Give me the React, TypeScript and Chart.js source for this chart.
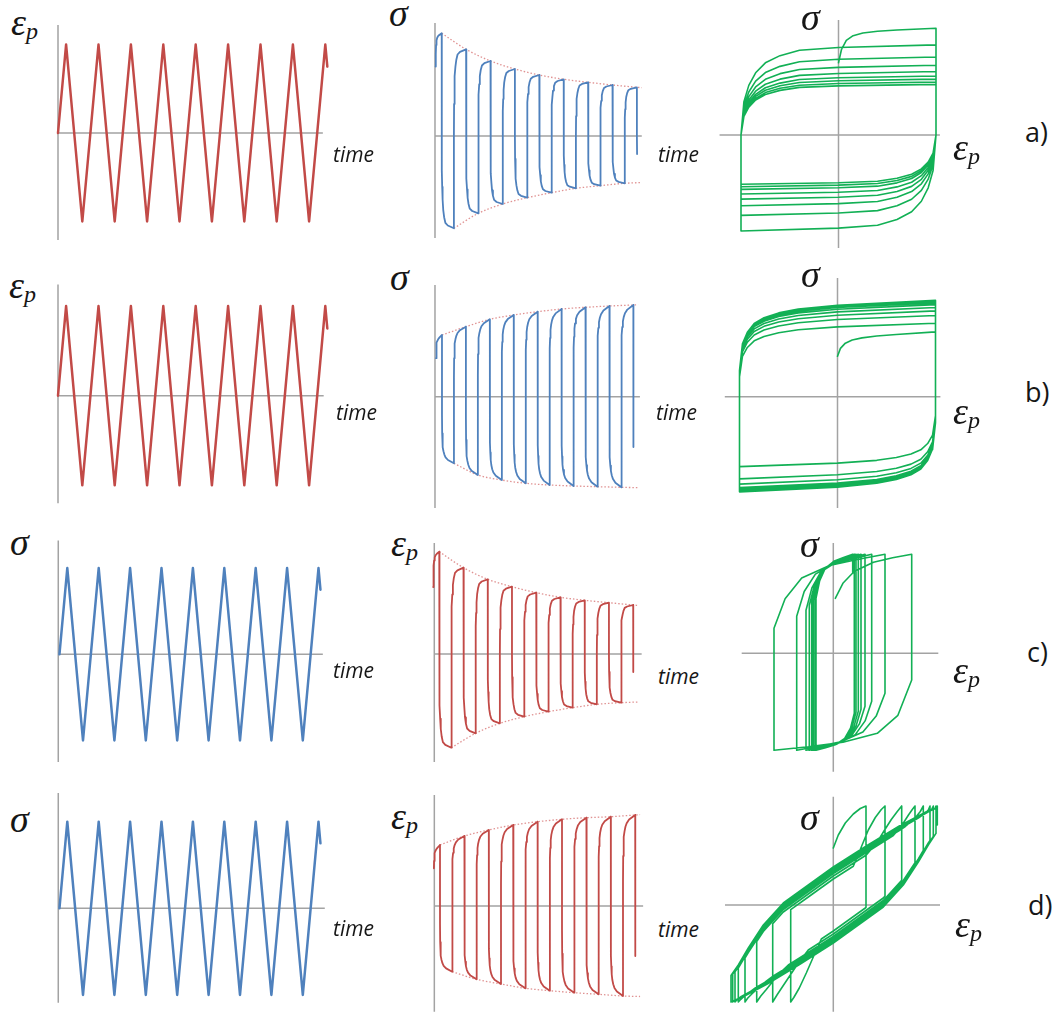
import React, { useEffect, useRef } from "react";
import { Chart, registerables } from "chart.js";

Chart.register(...registerables);

// ---------------- DATA ----------------

// Column 1: control signal (triangle wave), time units, normalised amplitude
const TRI_T = [0, 1, 3, 5, 7, 9, 11, 13, 15, 17, 19, 21, 23, 25, 27, 29, 31, 33, 33.25];
const TRI_V = [0, 1, -1, 1, -1, 1, -1, 1, -1, 1, -1, 1, -1, 1, -1, 1, -1, 1, 0.75];

// Column 2: response sampled in blocks; each block starts at a reversal time
const BLOCK_START = [0, 1, 3, 5, 7, 9, 11, 13, 15, 17, 19, 21, 23, 25, 27, 29, 31, 33];
const BLOCK_OFFSET = [0, 0.03, 0.08, 0.15, 0.25, 0.4, 0.6, 1, 2];
// triangle (control) values at the same sample offsets
const STRAIN_START = [0, 0.03, 0.08, 0.15, 0.25, 0.4, 0.6, 1];
const STRAIN_DOWN = [1, 0.97, 0.92, 0.85, 0.75, 0.6, 0.4, 0, -1];

// a) stress response to strain cycling (softening)
const SIG_A = [
  [69.5, 82, 91, 95.5, 98, 99.8, 101, 102.7],
  [0, -34.2, -50.8, -63.7, -73.8, -81.2, -86.8, -89.5, -92.3],
  [0, 32.1, 47.7, 59.8, 69.4, 76.3, 81.5, 84.1, 86.7],
  [0, -28.6, -42.5, -53.3, -61.8, -68, -72.7, -75, -77.3],
  [0, 27.8, 41.3, 51.8, 60, 66, 70.5, 72.8, 75],
  [0, -25.2, -37.4, -46.9, -54.4, -59.8, -63.9, -66, -68],
  [0, 24.8, 36.9, 46.2, 53.6, 59, 63, 65, 67],
  [0, -22.8, -33.9, -42.6, -49.4, -54.3, -58, -59.8, -61.7],
  [0, 22.6, 33.6, 42.1, 48.8, 53.7, 57.3, 59.2, 61],
  [0, -21, -31.2, -39.1, -45.4, -49.9, -53.3, -55, -56.7],
  [0, 21, 31.2, 39.1, 45.4, 49.9, 53.3, 55, 56.7],
  [0, -19.4, -28.8, -36.1, -41.8, -46, -49.2, -50.7, -52.3],
  [0, 19.9, 29.5, 37.1, 43, 47.3, 50.5, 52.1, 53.7],
  [0, -18.4, -27.3, -34.3, -39.8, -43.7, -46.7, -48.2, -49.7],
  [0, 18.9, 28.1, 35.2, 40.8, 44.9, 47.9, 49.5, 51],
  [0, -17.5, -26, -32.6, -37.8, -41.6, -44.5, -45.9, -47.3],
  [0, 18, 26.8, 33.6, 39, 42.9, 45.8, 47.2, 48.7],
  [0, -18],
];
// b) stress response to strain cycling (hardening)
const SIG_B = [
  [38.5, 46, 51, 54, 56, 57.8, 59.3, 61.7],
  [-18, -36.6, -44.6, -50.6, -54.6, -57.9, -60.6, -63.3, -66.6],
  [18.9, 38.5, 46.9, 53.2, 57.4, 60.9, 63.7, 66.5, 70],
  [-21.1, -43.1, -52.5, -59.5, -64.2, -68.1, -71.3, -74.4, -78.3],
  [20.9, 42.6, 51.9, 58.8, 63.5, 67.3, 70.4, 73.5, 77.4],
  [-22.5, -45.8, -55.8, -63.3, -68.3, -72.5, -75.8, -79.1, -83.3],
  [22.1, 44.9, 54.7, 62.1, 67, 71.1, 74.3, 77.6, 81.7],
  [-23.4, -47.6, -58, -65.8, -71, -75.3, -78.8, -82.3, -86.6],
  [23, 46.8, 57, 64.6, 69.7, 74, 77.4, 80.8, 85],
  [-23.8, -48.6, -59.2, -67.1, -72.4, -76.8, -80.4, -83.9, -88.3],
  [23.7, 48.2, 58.8, 66.7, 71.9, 76.3, 79.8, 83.3, 87.7],
  [-24.1, -49.1, -59.8, -67.9, -73.2, -77.7, -81.3, -84.8, -89.3],
  [24.1, 49.2, 59.9, 67.9, 73.3, 77.8, 81.4, 84.9, 89.4],
  [-24.3, -49.5, -60.3, -68.4, -73.8, -78.3, -81.9, -85.5, -90],
  [24.5, 49.9, 60.8, 68.9, 74.4, 78.9, 82.5, 86.2, 90.7],
  [-24.5, -49.8, -60.7, -68.9, -74.3, -78.8, -82.4, -86.1, -90.6],
  [24.8, 50.4, 61.4, 69.7, 75.2, 79.8, 83.4, 87.1, 91.7],
  [-24.8, -50.4],
];
// c) plastic strain response to stress cycling
const EPS_C = [
  [67, 79.5, 88.5, 93.5, 96.5, 98.8, 100.3, 102.3],
  [0, -34.7, -51.5, -64.7, -75, -82.5, -88.1, -90.9, -93.7],
  [0, 31.9, 47.5, 59.5, 69, 75.9, 81.1, 83.7, 86.3],
  [0, -29.3, -43.6, -54.7, -63.4, -69.8, -74.5, -76.9, -79.3],
  [0, 27.6, 41.1, 51.5, 59.8, 65.7, 70.2, 72.5, 74.7],
  [0, -25.6, -38.1, -47.8, -55.4, -61, -65.1, -67.2, -69.3],
  [0, 24.9, 37, 46.4, 53.8, 59.2, 63.3, 65.3, 67.3],
  [0, -23.2, -34.5, -43.3, -50.2, -55.2, -58.9, -60.8, -62.7],
  [0, 22.7, 33.7, 42.3, 49, 53.9, 57.6, 59.5, 61.3],
  [0, -21.3, -31.7, -39.8, -46.2, -50.8, -54.2, -56, -57.7],
  [0, 21, 31.2, 39.1, 45.4, 49.9, 53.3, 55, 56.7],
  [0, -19.9, -29.5, -37.1, -43, -47.3, -50.5, -52.1, -53.7],
  [0, 19.9, 29.5, 37.1, 43, 47.3, 50.5, 52.1, 53.7],
  [0, -18.6, -27.7, -34.7, -40.2, -44.3, -47.3, -48.8, -50.3],
  [0, 19, 28.2, 35.4, 41, 45.1, 48.2, 49.8, 51.3],
  [0, -18, -26.8, -33.6, -39, -42.9, -45.8, -47.2, -48.7],
  [0, 18.1, 27, 33.8, 39.2, 43.1, 46.1, 47.5, 49],
  [0, -18],
];
// d) plastic strain response to stress cycling
const EPS_D = [
  [37.7, 45, 50, 53, 55, 56.8, 58.4, 61],
  [-17.7, -36.1, -44, -49.9, -53.9, -57.2, -59.8, -62.4, -65.7],
  [18.9, 38.5, 46.9, 53.2, 57.4, 60.9, 63.7, 66.5, 70],
  [-19.8, -40.3, -49.1, -55.7, -60.1, -63.8, -66.7, -69.6, -73.3],
  [20.5, 41.8, 50.9, 57.8, 62.3, 66.1, 69.2, 72.2, 76],
  [-21.1, -42.9, -52.3, -59.3, -64, -67.9, -71, -74.1, -78],
  [21.9, 44.6, 54.3, 61.6, 66.4, 70.5, 73.7, 77, 81],
  [-22.2, -45.3, -55.1, -62.5, -67.5, -71.6, -74.9, -78.2, -82.3],
  [22.8, 46.4, 56.5, 64.1, 69.1, 73.3, 76.7, 80.1, 84.3],
  [-22.9, -46.6, -56.7, -64.4, -69.5, -73.7, -77.1, -80.5, -84.7],
  [23.4, 47.7, 58.1, 65.9, 71.1, 75.4, 78.9, 82.4, 86.7],
  [-23.4, -47.7, -58.1, -65.9, -71.1, -75.4, -78.9, -82.4, -86.7],
  [23.8, 48.6, 59.2, 67.1, 72.4, 76.8, 80.4, 83.9, 88.3],
  [-23.8, -48.6, -59.2, -67.1, -72.4, -76.8, -80.4, -83.9, -88.3],
  [24.1, 49.1, 59.8, 67.9, 73.2, 77.7, 81.3, 84.8, 89.3],
  [-24.3, -49.5, -60.3, -68.4, -73.8, -78.3, -81.9, -85.5, -90],
  [24.6, 50, 61, 69.2, 74.6, 79.2, 82.8, 86.5, 91],
  [-24.6, -50],
];

// dotted envelopes of column 2
const ENV_UP_T = [1, 5, 9, 13, 17, 21, 25, 29, 33, 33.8];
const ENV_LO_T = [3, 7, 11, 15, 19, 23, 27, 31, 33.8];
const ENV_A_UP = [102.7, 86.7, 75, 67, 61, 56.7, 53.7, 51, 48.7, 48.3];
const ENV_A_LO = [-92.3, -77.3, -68, -61.7, -56.7, -52.3, -49.7, -47.3, -46.5];
const ENV_B_UP = [61.7, 70, 77.4, 81.7, 85, 87.7, 89.4, 90.7, 91.7, 91.9];
const ENV_B_LO = [-66.6, -78.3, -83.3, -86.6, -88.3, -89.3, -90, -90.6, -91];
const ENV_C_UP = [102.3, 86.3, 74.7, 67.3, 61.3, 56.7, 53.7, 51.3, 49, 48.6];
const ENV_C_LO = [-93.7, -79.3, -69.3, -62.7, -57.7, -53.7, -50.3, -48.7, -48];
const ENV_D_UP = [61, 70, 76, 81, 84.3, 86.7, 88.3, 89.3, 91, 91.3];
const ENV_D_LO = [-65.7, -73.3, -78, -82.3, -84.7, -86.7, -88.3, -90, -90.5];

// Column 3, rows c) and d): hysteresis loops [plastic strain, stress], branch by branch
const LOOP_C = [
  [[2, 55], [9.6, 70], [21.1, 82], [40.2, 91], [59.3, 95.5], [78.4, 99]],
  [[78.4, -26.7], [64.6, -62], [44, -80], [9.6, -89], [-24.9, -93.5], [-59.3, -97]],
  [[-59.3, 25], [-48.2, 54.6], [-31.6, 75.3], [-3.8, 87.9], [23.9, 93.8], [51.7, 99]],
  [[51.7, -40], [42.9, -62.8], [29.6, -78.8], [7.6, -88.5], [-14.5, -93], [-36.6, -97]],
  [[-36.6, 37], [-29.1, 61.8], [-17.9, 79.2], [0.9, 89.7], [19.7, 94.7], [38.4, 99]],
  [[38.4, -48], [31.8, -67.6], [22, -81.3], [5.6, -89.7], [-10.9, -93.6], [-27.3, -97]],
  [[-27.3, 43], [-21.4, 65.4], [-12.6, 81.1], [2.2, 90.6], [17, 95.1], [31.7, 99]],
  [[31.7, -53], [26.1, -70.6], [17.8, -82.9], [3.9, -90.4], [-10.1, -93.9], [-24, -97]],
  [[-24, 48], [-18.8, 68.4], [-11.1, 82.7], [1.9, 91.4], [14.8, 95.4], [27.7, 99]],
  [[27.7, -56], [22.8, -72.4], [15.4, -83.9], [3.1, -90.9], [-9.3, -94.1], [-21.6, -97]],
  [[-21.6, 51], [-16.9, 70.2], [-9.9, 83.6], [1.7, 91.8], [13.4, 95.6], [25, 99]],
  [[25, -58], [20.5, -73.6], [13.8, -84.5], [2.5, -91.2], [-8.8, -94.3], [-20, -97]],
  [[-20, 53], [-15.7, 71.4], [-9.3, 84.3], [1.4, 92.1], [12, 95.8], [22.7, 99]],
  [[22.7, -59], [18.6, -74.2], [12.5, -84.8], [2.2, -91.3], [-8.1, -94.3], [-18.3, -97]],
  [[-18.3, 54], [-14.4, 72], [-8.5, 84.6], [1.4, 92.3], [11.2, 95.9], [21, 99]],
  [[21, -60], [17.2, -74.8], [11.4, -85.2], [1.9, -91.5], [-7.7, -94.4], [-17.3, -97]],
  [[-17.3, 55], [-13.6, 72.6], [-8.1, 84.9], [1.1, 92.4], [10.2, 95.9], [19.4, 99]],
  [[19.4, 80]],
];
const LOOP_D = [
  [[0, 57], [5, 70], [12, 82], [20, 91], [27, 96.5], [32.7, 99]],
  [[32.7, -2.5], [25, -8], [0, -26], [-12, -34], [-20, -52], [-27, -68], [-34, -83], [-39.5, -92.5], [-42.6, -97]],
  [[-42.6, -4.7], [-25, 8], [0, 26], [20, 38.7], [28, 58], [35, 75], [42, 87.5], [48, 95.5], [51.7, 99]],
  [[51.7, 8.9], [50, 7], [25, -11], [0, -29], [-25, -45], [-35, -58], [-43, -70], [-50, -80.5], [-56, -89.5], [-60.6, -97]],
  [[-60.6, -18.7], [-50, -7], [-25, 11], [0, 29], [33, 50], [44, 63], [51, 74.5], [58, 85.5], [64, 93.5], [68.4, 99]],
  [[68.4, 24.7], [50, 4.5], [25, -13.5], [0, -31.5], [-33, -52.5], [-45, -60], [-54, -68.5], [-61, -77], [-67, -84.5], [-72.5, -91], [-76.6, -97]],
  [[-76.6, -36.6], [-70, -26.5], [-50, -4.5], [-25, 13.5], [0, 31.5], [33, 52.5], [60, 69.5], [66, 76.5], [71, 83.5], [75.5, 90.5], [79, 95.5], [81.7, 99]],
  [[81.7, 42.4], [70, 24.5], [50, 2.5], [25, -15.5], [0, -33.5], [-33, -54.5], [-60, -70.9], [-68, -77], [-75, -83], [-81, -88.5], [-85.5, -93], [-88.3, -97]],
  [[-88.3, -53.1], [-85, -47.5], [-70, -24.5], [-50, -2.5], [-25, 15.5], [0, 33.5], [33, 54.5], [66, 74.5], [72, 78.5], [78, 83.5], [83, 88.5], [87, 93.5], [90, 99]],
  [[90, 54.5], [85, 46], [70, 23], [50, 1], [25, -17], [0, -35], [-33, -56], [-66, -76], [-78, -83], [-84, -87.5], [-89, -91.2], [-92.5, -94.3], [-95, -97]],
  [[-95, -63], [-85, -46], [-70, -23], [-50, -1], [-25, 17], [0, 35], [33, 56], [66, 76], [85, 87], [92, 92], [95, 95], [96.7, 99]],
  [[96.7, 64.6], [95, 62], [85, 45], [70, 22], [50, 0], [25, -18], [0, -36], [-33, -57], [-66, -77], [-85, -87.6], [-92, -91.5], [-96, -94.5], [-98.3, -97]],
  [[-98.3, -66.8], [-95, -62], [-85, -45], [-70, -22], [-50, 0], [-25, 18], [0, 36], [33, 57], [66, 77], [93, 92], [98, 95], [100, 99]],
  [[100, 68.6], [95, 61], [85, 44], [70, 21], [50, -1], [25, -19], [0, -37], [-33, -58], [-66, -78], [-93, -92.6], [-98.5, -95.3], [-100.6, -97]],
  [[-100.6, -69.1], [-95, -61], [-85, -44], [-70, -21], [-50, 1], [-25, 19], [0, 37], [33, 58], [66, 78], [93, 92.6], [101.6, 96.3], [102.7, 99]],
  [[102.7, 71.6], [95, 60], [85, 43], [70, 20], [50, -2], [25, -20], [0, -38], [-33, -59], [-66, -79], [-93, -93.2], [-101.6, -96.6], [-102.3, -97]],
  [[-102.3, -70.5], [-95, -60], [-85, -43], [-70, -20], [-50, 2], [-25, 20], [0, 38], [33, 59], [66, 79], [93, 93.2], [101.6, 96.6], [104, 99]],
  [[104, 80]],
];

// texts
const TXT_TIME = "time";
const TXT_SIGMA = "σ";
const TXT_EPS = "ε";
const TXT_SUB = "p";
const ROW_TAGS = ["a)", "b)", "c)", "d)"];

// ---------------- helpers ----------------
type Pt = { x: number; y: number };

function zip(ts: number[], vs: number[]): Pt[] {
  return vs.map((v, i) => ({ x: ts[i], y: v }));
}
function blocksToTime(blocks: number[][]): Pt[] {
  const pts: Pt[] = [];
  blocks.forEach((b, j) => b.forEach((v, i) => pts.push({ x: BLOCK_START[j] + BLOCK_OFFSET[i], y: v })));
  return pts;
}
function blocksToLoop(blocks: number[][]): Pt[] {
  const pts: Pt[] = [];
  blocks.forEach((b, j) =>
    b.forEach((v, i) => {
      const e = j === 0 ? STRAIN_START[i] : (j % 2 === 1 ? 1 : -1) * STRAIN_DOWN[i];
      pts.push({ x: e, y: v });
    })
  );
  return pts;
}
function branchesToPts(br: number[][][]): Pt[] {
  const pts: Pt[] = [];
  br.forEach((b) => b.forEach(([x, y]) => pts.push({ x, y })));
  return pts;
}

const RED = "#c24a47";
const BLUE = "#4f81bd";
const GREEN = "#12b055";
const ENVC = "rgba(222,140,140,0.95)";
const AXIS = "#a3a3a3";

const line = (data: Pt[], color: string, width: number) => ({
  data,
  showLine: true,
  borderColor: color,
  backgroundColor: color,
  borderWidth: width,
  pointRadius: 0,
  fill: false,
  tension: 0,
  borderJoinStyle: "round",
  borderCapStyle: "round",
  clip: false,
});
const env = (data: Pt[]) => ({
  ...line(data, ENVC, 1.3),
  borderDash: [1.5, 2],
  tension: 0.4,
  cubicInterpolationMode: "monotone",
  borderCapStyle: "butt",
});

const crossAxes = {
  id: "crossAxes",
  beforeDatasetsDraw(chart: any, _args: any, opts: any) {
    const { ctx } = chart;
    const xs = chart.scales.x;
    const ys = chart.scales.y;
    ctx.save();
    ctx.strokeStyle = AXIS;
    ctx.lineWidth = 1.5;
    ctx.beginPath();
    ctx.moveTo(xs.getPixelForValue(opts.h[0]), ys.getPixelForValue(0));
    ctx.lineTo(xs.getPixelForValue(opts.h[1]), ys.getPixelForValue(0));
    ctx.moveTo(xs.getPixelForValue(opts.v[0]), ys.getPixelForValue(opts.v[1]));
    ctx.lineTo(xs.getPixelForValue(opts.v[0]), ys.getPixelForValue(opts.v[2]));
    ctx.stroke();
    ctx.restore();
  },
};

type Spec = {
  box: [number, number, number, number];
  origin: [number, number];
  unit: [number, number];
  h: [number, number];
  v: [number, number, number];
  datasets: any[];
};

function Panel({ spec }: { spec: Spec }) {
  const ref = useRef<HTMLCanvasElement>(null);
  const [L, T, W, H] = spec.box;
  useEffect(() => {
    const [ox, oy] = spec.origin;
    const [ux, uy] = spec.unit;
    const chart = new Chart(ref.current as HTMLCanvasElement, {
      type: "scatter",
      data: { datasets: spec.datasets },
      options: {
        responsive: false,
        animation: false,
        devicePixelRatio: 1,
        events: [],
        layout: { padding: 0 },
        plugins: {
          legend: { display: false },
          tooltip: { enabled: false },
          crossAxes: { h: spec.h, v: spec.v },
        } as any,
        scales: {
          x: { type: "linear", display: false, min: (L - ox) / ux, max: (L + W - ox) / ux },
          y: { type: "linear", display: false, min: (oy - T - H) / uy, max: (oy - T) / uy },
        },
      },
      plugins: [crossAxes as any],
    } as any);
    return () => chart.destroy();
  }, []);
  return (
    <canvas
      ref={ref}
      width={W}
      height={H}
      style={{ position: "absolute", left: L, top: T, width: W, height: H }}
    />
  );
}

const SERIF = '"Liberation Serif", "DejaVu Serif", serif';
const SANS = '"Open Sans", "Liberation Sans", sans-serif';

function Txt(props: { x: number; base: number; size: number; serif?: boolean; italic?: boolean; children: any }) {
  const k = props.serif ? 0.8375 : 0.888;
  return (
    <div
      style={{
        position: "absolute",
        left: props.x,
        top: props.base - k * props.size,
        fontSize: props.size,
        lineHeight: `${props.size}px`,
        fontFamily: props.serif ? SERIF : SANS,
        fontStyle: props.italic ? "italic" : "normal",
        whiteSpace: "nowrap",
        color: "#161616",
      }}
    >
      {props.children}
    </div>
  );
}

function Sigma({ x, base }: { x: number; base: number }) {
  return (
    <Txt x={x} base={base} size={38} serif italic>
      {TXT_SIGMA}
    </Txt>
  );
}
function EpsP({ x, base }: { x: number; base: number }) {
  return (
    <Txt x={x} base={base} size={38} serif italic>
      {TXT_EPS}
      <span style={{ fontSize: 24, position: "relative", top: 4 }}>{TXT_SUB}</span>
    </Txt>
  );
}
function Time({ x, base }: { x: number; base: number }) {
  return (
    <Txt x={x} base={base} size={21} italic>
      {TXT_TIME}
    </Txt>
  );
}

export default function App() {
  const tri = zip(TRI_T, TRI_V);
  const specs: Spec[] = [
    // column 1
    { box: [40, 10, 300, 245], origin: [58, 133], unit: [8.1, 88.5], h: [0, 32.7], v: [0, -1.21, 1.22], datasets: [line(tri, RED, 2.5)] },
    { box: [40, 270, 300, 245], origin: [58, 395.7], unit: [8.1, 89.6], h: [0, 32.8], v: [0, -1.2, 1.24], datasets: [line(tri, RED, 2.5)] },
    { box: [40, 525, 300, 250], origin: [59.45, 654.3], unit: [7.85, 86.2], h: [-0.15, 33.55], v: [-0.15, -1.25, 1.32], datasets: [line(tri, BLUE, 2.5)] },
    { box: [40, 780, 300, 234], origin: [59.45, 908.3], unit: [7.85, 86.6], h: [-0.15, 33.8], v: [-0.15, -1.09, 1.33], datasets: [line(tri, BLUE, 2.5)] },
    // column 2
    {
      box: [425, 10, 230, 245], origin: [435.6, 136], unit: [6.1, 1], h: [-0.1, 33.8], v: [-0.1, -102, 113],
      datasets: [line(blocksToTime(SIG_A), BLUE, 1.8), env(zip(ENV_UP_T, ENV_A_UP)), env(zip(ENV_LO_T, ENV_A_LO))],
    },
    {
      box: [425, 270, 230, 245], origin: [436, 396.7], unit: [5.98, 1], h: [-0.17, 34.1], v: [-0.17, -111.3, 111.7],
      datasets: [line(blocksToTime(SIG_B), BLUE, 1.8), env(zip(ENV_UP_T, ENV_B_UP)), env(zip(ENV_LO_T, ENV_B_LO))],
    },
    {
      box: [425, 525, 230, 250], origin: [433.2, 654], unit: [6.06, 1], h: [0.18, 34.4], v: [0.18, -108, 111],
      datasets: [line(blocksToTime(EPS_C), RED, 1.8), env(zip(ENV_UP_T, ENV_C_UP)), env(zip(ENV_LO_T, ENV_C_LO))],
    },
    {
      box: [425, 780, 230, 234], origin: [433.9, 906], unit: [6.1, 1], h: [0.07, 34.3], v: [0.07, -105.7, 111],
      datasets: [line(blocksToTime(EPS_D), RED, 1.8), env(zip(ENV_UP_T, ENV_D_UP)), env(zip(ENV_LO_T, ENV_D_LO))],
    },
    // column 3
    { box: [710, 5, 250, 250], origin: [838.5, 135], unit: [97.5, 1.04], h: [-1.22, 1.04], v: [0, -108.7, 110.6], datasets: [line(blocksToLoop(SIG_A), GREEN, 1.6)] },
    { box: [710, 265, 250, 250], origin: [837.5, 396.7], unit: [98, 1.05], h: [-1.15, 1.05], v: [0, -106, 113], datasets: [line(blocksToLoop(SIG_B), GREEN, 1.6)] },
    { box: [710, 525, 250, 250], origin: [833.3, 653.3], unit: [1, 1], h: [-91.6, 105], v: [0, -118.4, 110.3], datasets: [line(branchesToPts(LOOP_C), GREEN, 1.6)] },
    { box: [710, 780, 250, 234], origin: [833.3, 905], unit: [1, 1], h: [-108.3, 106.7], v: [0, -106.7, 108.3], datasets: [line(branchesToPts(LOOP_D), GREEN, 1.6)] },
  ];

  return (
    <div style={{ position: "absolute", left: 0, top: 0, width: 1055, height: 1014, background: "#fff", overflow: "hidden" }}>
      {specs.map((s, i) => (
        <Panel key={i} spec={s} />
      ))}
      {/* column 1 labels */}
      <EpsP x={11} base={35} />
      <EpsP x={9} base={298} />
      <Sigma x={10} base={555} />
      <Sigma x={10} base={832} />
      <Time x={333} base={163} />
      <Time x={336} base={421} />
      <Time x={333} base={679} />
      <Time x={333} base={937} />
      {/* column 2 labels */}
      <Sigma x={389} base={26} />
      <Sigma x={390} base={290} />
      <EpsP x={391} base={556} />
      <EpsP x={391} base={829} />
      <Time x={658} base={163} />
      <Time x={656} base={421} />
      <Time x={658} base={685} />
      <Time x={658} base={938} />
      {/* column 3 labels */}
      <Sigma x={801} base={30} />
      <Sigma x={801} base={287} />
      <Sigma x={800} base={557} />
      <Sigma x={800} base={830} />
      <EpsP x={953} base={160} />
      <EpsP x={953} base={424} />
      <EpsP x={953} base={683} />
      <EpsP x={955} base={937} />
      {ROW_TAGS.map((t, i) => (
        <Txt key={t} x={[1025, 1025, 1027, 1028][i]} base={[142, 402, 662, 915][i]} size={27}>
          {t}
        </Txt>
      ))}
    </div>
  );
}
